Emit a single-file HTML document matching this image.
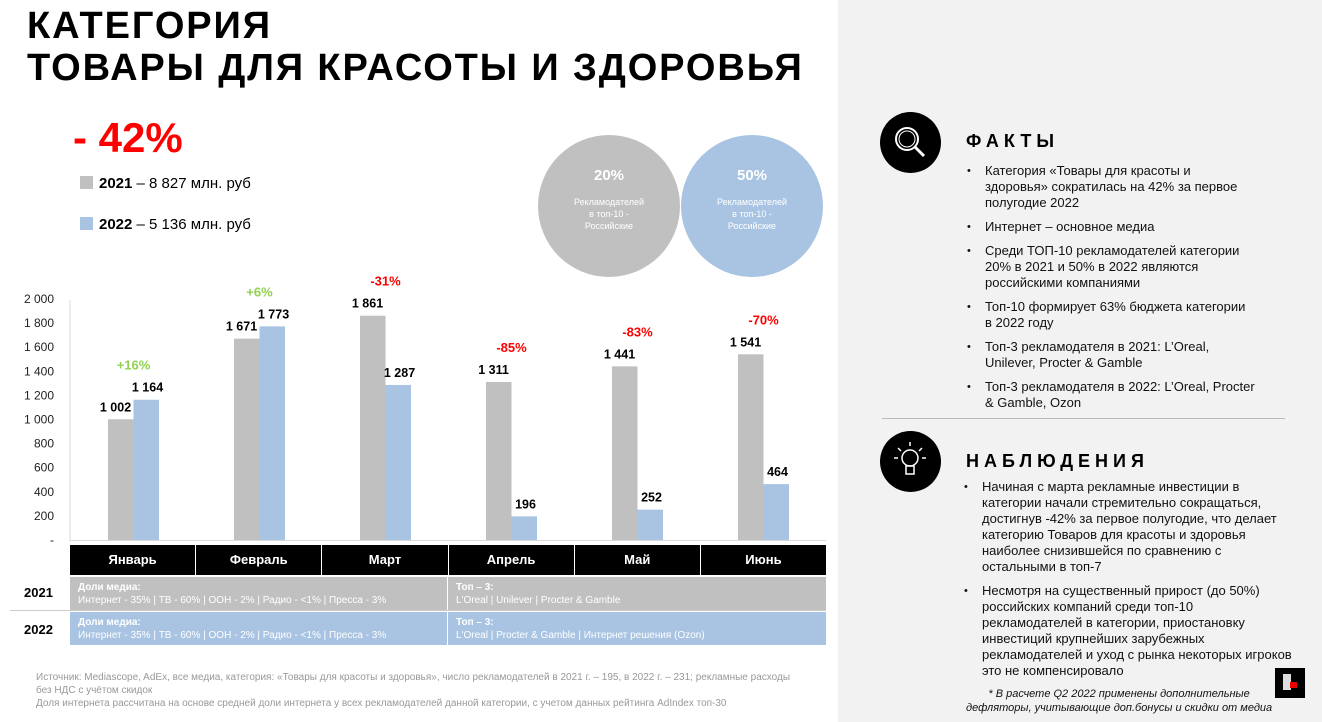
<!DOCTYPE html>
<html><head><meta charset="utf-8">
<style>
body{margin:0;width:1322px;height:722px;overflow:hidden;background:#fff;font-family:"Liberation Sans","Noto Sans CJK SC",sans-serif;position:relative}
.abs{position:absolute}
.title{left:27px;top:5px;font-size:38px;font-weight:bold;line-height:42px;color:#000;letter-spacing:1.9px}
.right{left:838px;top:0;width:484px;height:722px;background:#f2f2f2}
.icon{width:61px;height:61px;border-radius:50%;background:#000}
.head{font-size:18px;font-weight:bold;letter-spacing:5px}
ul{margin:0;padding:0;list-style:none;font-size:13px;line-height:16px;color:#111}
li{position:relative;padding-left:18px;margin-bottom:8px;white-space:nowrap}
li:before{content:"•";position:absolute;left:0;top:0;font-size:11px}
.circ{width:142px;height:142px;border-radius:50%;color:#fff;text-align:center}
.circ b{display:block;font-size:15px;margin-top:32px}
.circ span{display:block;font-size:9px;line-height:12px;margin-top:12px}
.foot{left:36px;top:671px;font-size:10px;line-height:13px;color:#999}
</style></head><body>
<div class="abs title">КАТЕГОРИЯ<br>ТОВАРЫ ДЛЯ КРАСОТЫ И ЗДОРОВЬЯ</div>
<div class="abs" style="left:73px;top:114px;font-size:42px;font-weight:bold;color:#f00">- 42%</div>
<div class="abs" style="left:80px;top:176px;width:13px;height:13px;background:#c0c0c0"></div>
<div class="abs" style="left:99px;top:175px;font-size:15px"><b>2021</b> – 8 827 млн. руб</div>
<div class="abs" style="left:80px;top:217px;width:13px;height:13px;background:#a9c4e2"></div>
<div class="abs" style="left:99px;top:216px;font-size:15px"><b>2022</b> – 5 136 млн. руб</div>
<div class="abs circ" style="left:538px;top:135px;background:#c0c0c0"><b>20%</b><span>Рекламодателей<br>в топ-10 -<br>Российские</span></div>
<div class="abs circ" style="left:681px;top:135px;background:#a9c4e2"><b>50%</b><span>Рекламодателей<br>в топ-10 -<br>Российские</span></div>

<svg class="abs" style="left:0;top:0" width="838" height="722" id="chart"></svg>

<div class="abs" style="left:70px;top:545px;width:756px;height:30px;background:#000;display:flex">
<div style="flex:1;color:#fff;font-size:13px;font-weight:bold;text-align:center;line-height:30px;border-right:1px solid #fff">Январь</div>
<div style="flex:1;color:#fff;font-size:13px;font-weight:bold;text-align:center;line-height:30px;border-right:1px solid #fff">Февраль</div>
<div style="flex:1;color:#fff;font-size:13px;font-weight:bold;text-align:center;line-height:30px;border-right:1px solid #fff">Март</div>
<div style="flex:1;color:#fff;font-size:13px;font-weight:bold;text-align:center;line-height:30px;border-right:1px solid #fff">Апрель</div>
<div style="flex:1;color:#fff;font-size:13px;font-weight:bold;text-align:center;line-height:30px;border-right:1px solid #fff">Май</div>
<div style="flex:1;color:#fff;font-size:13px;font-weight:bold;text-align:center;line-height:30px">Июнь</div>
</div>
<div class="abs" style="left:10px;top:610px;width:816px;height:1px;background:#ccc"></div>
<div class="abs" style="left:24px;top:585px;font-size:13px;font-weight:bold">2021</div>
<div class="abs" style="left:24px;top:622px;font-size:13px;font-weight:bold">2022</div>
<div class="abs" style="left:70px;top:577px;width:756px;height:33px;background:#c0c0c0;color:#fff;font-size:10px;line-height:13px">
<div class="abs" style="left:8px;top:4px"><b>Доли медиа:</b><br>Интернет - 35% | ТВ - 60% | ООН - 2% | Радио - &lt;1% | Пресса - 3%</div>
<div class="abs" style="left:377px;top:0;border-left:1px solid #fff;height:33px"></div>
<div class="abs" style="left:386px;top:4px"><b>Топ – 3:</b><br>L'Oreal | Unilever | Procter &amp; Gamble</div></div>
<div class="abs" style="left:70px;top:612px;width:756px;height:33px;background:#a9c4e2;color:#fff;font-size:10px;line-height:13px">
<div class="abs" style="left:8px;top:4px"><b>Доли медиа:</b><br>Интернет - 35% | ТВ - 60% | ООН - 2% | Радио - &lt;1% | Пресса - 3%</div>
<div class="abs" style="left:377px;top:0;border-left:1px solid #fff;height:33px"></div>
<div class="abs" style="left:386px;top:4px"><b>Топ – 3:</b><br>L'Oreal | Procter &amp; Gamble | Интернет решения (Ozon)</div></div>

<div class="abs foot">Источник: Mediascope, AdEx, все медиа, категория: «Товары для красоты и здоровья», число рекламодателей в 2021 г. – 195, в 2022 г. – 231; рекламные расходы<br>без НДС с учётом скидок<br>Доля интернета рассчитана на основе средней доли интернета у всех рекламодателей данной категории, с учетом данных рейтинга AdIndex топ-30</div>

<div class="abs right">
<div class="abs icon" style="left:42px;top:112px">
<svg width="61" height="61"><circle cx="27" cy="27" r="11" fill="none" stroke="#fff" stroke-width="2"/><circle cx="27" cy="27" r="8" fill="none" stroke="#fff" stroke-width="1"/><line x1="35" y1="35" x2="44" y2="44" stroke="#fff" stroke-width="3"/></svg></div>
<div class="abs head" style="left:128px;top:131px">ФАКТЫ</div>
<ul class="abs" style="left:129px;top:163px;width:290px">
<li>Категория «Товары для красоты и<br>здоровья» сократилась на 42% за первое<br>полугодие 2022</li>
<li>Интернет – основное медиа</li>
<li>Среди ТОП-10 рекламодателей категории<br>20% в 2021 и 50% в 2022 являются<br>российскими компаниями</li>
<li>Топ-10 формирует 63% бюджета категории<br>в 2022 году</li>
<li>Топ-3 рекламодателя в 2021: L’Oreal,<br>Unilever, Procter &amp; Gamble</li>
<li>Топ-3 рекламодателя в 2022: L’Oreal, Procter<br>&amp; Gamble, Ozon</li>
</ul>
<div class="abs" style="left:44px;top:418px;width:403px;height:1px;background:#bbb"></div>
<div class="abs icon" style="left:42px;top:431px">
<svg width="61" height="61"><circle cx="30" cy="27" r="8" fill="none" stroke="#fff" stroke-width="1.5"/><rect x="26" y="35" width="8" height="8" fill="none" stroke="#fff" stroke-width="1.5"/><g stroke="#fff" stroke-width="1.5"><line x1="30" y1="11" x2="30" y2="15"/><line x1="18" y1="17" x2="21" y2="20"/><line x1="42" y1="17" x2="39" y2="20"/><line x1="14" y1="27" x2="18" y2="27"/><line x1="46" y1="27" x2="42" y2="27"/></g></svg></div>
<div class="abs head" style="left:128px;top:451px">НАБЛЮДЕНИЯ</div>
<ul class="abs" style="left:126px;top:479px;width:345px">
<li>Начиная с марта рекламные инвестиции в<br>категории начали стремительно сокращаться,<br>достигнув -42% за первое полугодие, что делает<br>категорию Товаров для красоты и здоровья<br>наиболее снизившейся по сравнению с<br>остальными в топ-7</li>
<li>Несмотря на существенный прирост (до 50%)<br>российских компаний среди топ-10<br>рекламодателей в категории, приостановку<br>инвестиций крупнейших зарубежных<br>рекламодателей и уход с рынка некоторых игроков<br>это не компенсировало</li>
</ul>
<div class="abs" style="left:437px;top:668px;width:30px;height:30px;background:#000"><div class="abs" style="left:8px;top:6px;width:8px;height:16px;background:#ddd"></div><div class="abs" style="left:15px;top:14px;width:7px;height:6px;background:#e00"></div></div>
<div class="abs" style="left:128px;top:687px;font-size:11px;font-style:italic;line-height:14px;color:#111;text-align:center">* В расчете Q2 2022 применены дополнительные<br>дефляторы, учитывающие доп.бонусы и скидки от медиа</div>
</div>

<script>
const months=["Январь","Февраль","Март","Апрель","Май","Июнь"];
const values2021=[1002,1671,1861,1311,1441,1541];
const values2022=[1164,1773,1287,196,252,464];
const changes=["+16%","+6%","-31%","-85%","-83%","-70%"];
const ticks=[0,200,400,600,800,1000,1200,1400,1600,1800,2000];
const NS="http://www.w3.org/2000/svg";
const svg=document.getElementById('chart');
const y=v=>540-v*0.1205;
const xc=i=>133.5+i*126;
const fmt=v=>v===0?"-":String(v).replace(/\B(?=(\d{3})+(?!\d))/g," ");
function mk(t,a){const e=document.createElementNS(NS,t);for(const k in a)e.setAttribute(k,a[k]);svg.appendChild(e);return e;}
let ax=mk('line',{x1:70,y1:300,x2:70,y2:541,stroke:'#d9d9d9'});


let bx=mk('line',{x1:70,y1:540.5,x2:826,y2:540.5,stroke:'#d9d9d9'});


ticks.forEach(t=>{const e=mk('text',{x:54,y:y(t)+4,'text-anchor':'end','font-size':12,fill:'#222'});e.textContent=fmt(t);

});
months.forEach((m,i)=>{
 const c=xc(i);
 const g=mk('rect',{x:c-25.5,y:y(values2021[i]),width:25.5,height:540-y(values2021[i]),fill:'#c0c0c0'});
 
 
 const b=mk('rect',{x:c,y:y(values2022[i]),width:25.5,height:540-y(values2022[i]),fill:'#a9c4e2'});
 
 
 const t1=mk('text',{x:c-18,y:y(values2021[i])-8,'text-anchor':'middle','font-size':12.5,'font-weight':'bold'});t1.textContent=fmt(values2021[i]);
 
 
 const t2=mk('text',{x:c+14,y:y(values2022[i])-8,'text-anchor':'middle','font-size':12.5,'font-weight':'bold'});t2.textContent=fmt(values2022[i]);
 
 
 const mx=Math.max(values2021[i],values2022[i]);
 const ch=mk('text',{x:c,y:y(mx)-30,'text-anchor':'middle','font-size':13,'font-weight':'bold',fill:changes[i][0]==='+'?'#92d050':'#ff0000'});ch.textContent=changes[i];
 
 
});
</script>
</body></html>
